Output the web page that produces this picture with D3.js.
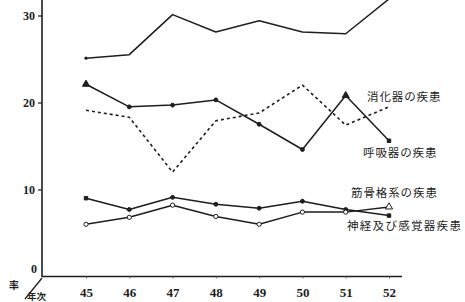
<!DOCTYPE html>
<html><head><meta charset="utf-8">
<script src="https://cdn.jsdelivr.net/npm/d3@7"></script>
<style>
html,body{margin:0;padding:0;background:#fff;}
svg{display:block;}
</style></head>
<body>
<svg id="c" width="465" height="302"></svg>
<script>
const years = [45, 46, 47, 48, 49, 50, 51, 52];
const yTicks = [0, 10, 20, 30];
const totalRate = [25.1, 25.5, 30.1, 28.1, 29.4, 28.1, 27.9, 31.9];
const respiratory = [22.1, 19.5, 19.7, 20.3, 17.5, 14.6, 20.8, 15.6];
const digestive = [19.1, 18.3, 12.0, 17.9, 18.8, 22.0, 17.4, 19.5];
const musculoskeletal = [9.0, 7.7, 9.1, 8.3, 7.85, 8.65, 7.7, 7.0];
const nervous = [6.0, 6.8, 8.2, 6.9, 6.0, 7.4, 7.4, 8.0];
const seriesLabels = ["消化器の疾患", "呼吸器の疾患", "筋骨格系の疾患", "神経及び感覚器疾患"];

const svg = d3.select("#c");
const ink = "#1e1e1e";
const x = d3.scaleLinear().domain([45, 52]).range([86, 389]);
const y = d3.scaleLinear().domain([0, 30]).range([276.5, 15.5]);

// axes
svg.append("line").attr("x1", 42).attr("x2", 42).attr("y1", 0).attr("y2", 277)
  .attr("stroke", ink).attr("stroke-width", 1.6);
svg.append("line").attr("x1", 42).attr("x2", 402).attr("y1", y(0)).attr("y2", y(0))
  .attr("stroke", ink).attr("stroke-width", 1.6);

const yAxis = d3.axisLeft(y).tickValues(yTicks.slice(1)).tickSize(4).tickPadding(3);
const gy = svg.append("g").attr("transform", "translate(42,0)").call(yAxis);
gy.select(".domain").remove();
gy.selectAll("line").attr("stroke", ink).attr("stroke-width", 1.2);
gy.selectAll("text").attr("font-family", "Liberation Serif, serif").attr("font-weight", "bold")
  .attr("font-size", 12).attr("fill", ink);
svg.append("text").attr("x", 37).attr("y", 273).attr("text-anchor", "end")
  .attr("font-family", "Liberation Serif, serif").attr("font-weight", "bold").attr("font-size", 12)
  .attr("fill", ink).text(yTicks[0]);

const xAxis = d3.axisBottom(x).tickValues(years).tickSize(2).tickPadding(9).tickFormat(d3.format("d"));
const gx = svg.append("g").attr("transform", `translate(0,${y(0)})`).call(xAxis);
gx.select(".domain").remove();
gx.selectAll("line").attr("stroke", "#666").attr("stroke-width", 1);
gx.selectAll("text").attr("font-family", "Liberation Serif, serif").attr("font-weight", "bold")
  .attr("font-size", 13).attr("fill", ink);

// corner labels
svg.append("line").attr("x1", 42).attr("y1", 278).attr("x2", 25).attr("y2", 299)
  .attr("stroke", ink).attr("stroke-width", 1.3);
svg.append("text").attr("x", 9).attr("y", 289).attr("font-family", "Noto Sans CJK JP")
  .attr("font-size", 10).attr("font-weight", "bold").attr("fill", ink).text("率");
svg.append("text").attr("x", 27).attr("y", 300).attr("font-family", "Noto Sans CJK JP")
  .attr("font-size", 9.5).attr("font-weight", "bold").attr("fill", ink).text("年次");

const line = d3.line().x((d, i) => x(years[i])).y(d => y(d));

function drawLine(vals, dashed) {
  svg.append("path").datum(vals).attr("d", line).attr("fill", "none")
    .attr("stroke", ink).attr("stroke-width", dashed ? 1.6 : 1.5)
    .attr("stroke-dasharray", dashed ? "3,3" : null).attr("stroke-linejoin", "round");
}
drawLine(totalRate, false);
drawLine(digestive, true);
drawLine(respiratory, false);
drawLine(musculoskeletal, false);
drawLine(nervous, false);

function markers(vals, shapes, open) {
  svg.append("g").selectAll("path").data(vals).join("path")
    .attr("transform", (d, i) => `translate(${x(years[i])},${y(d)})`)
    .attr("d", (d, i) => d3.symbol().type(shapes[i] === "t" ? d3.symbolTriangle : (shapes[i] === "s" ? d3.symbolSquare : d3.symbolCircle)).size(shapes[i] === "t" ? 22 : (open ? 14 : 12))())
    .attr("fill", open ? "#fff" : ink).attr("stroke", ink).attr("stroke-width", 1);
}
// total: small dot at start only
svg.append("circle").attr("cx", x(years[0])).attr("cy", y(totalRate[0])).attr("r", 1.6).attr("fill", ink);
markers(respiratory, ["t", "c", "c", "c", "c", "c", "t", "s"], false);
markers(musculoskeletal, ["s", "c", "c", "c", "c", "c", "c", "s"], false);
markers(nervous, ["c", "c", "c", "c", "c", "c", "c", "t"], true);

const labelPos = [[367, 101], [363, 157], [351, 197], [347, 230]];
seriesLabels.forEach((t, i) => {
  svg.append("text").attr("x", labelPos[i][0]).attr("y", labelPos[i][1])
    .attr("font-family", "Noto Sans CJK JP").attr("font-size", 11.5)
    .attr("letter-spacing", i === 3 ? 1.3 : 0.9).attr("fill", ink).text(t);
});
</script>
</body></html>
